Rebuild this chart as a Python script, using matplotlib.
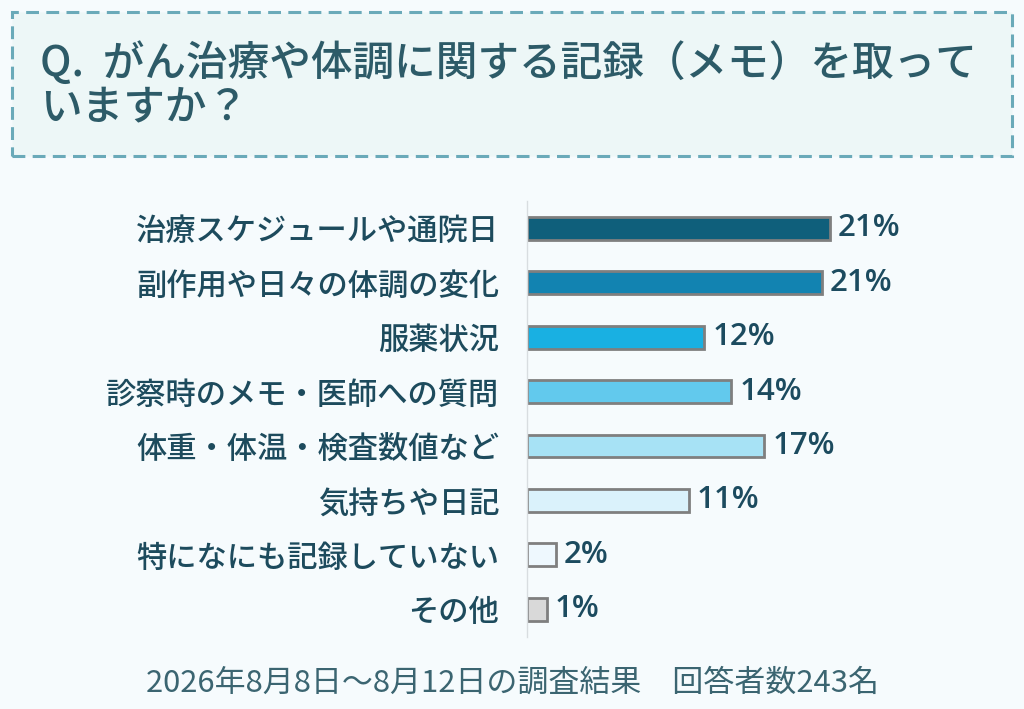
import matplotlib
matplotlib.use("Agg")
import matplotlib.pyplot as plt
from matplotlib.patches import Rectangle

plt.rcParams['font.family'] = ['Noto Sans CJK JP', 'DejaVu Sans']

# data
categories = ["治療スケジュールや通院日", "副作用や日々の体調の変化", "服薬状況",
              "診察時のメモ・医師への質問", "体重・体温・検査数値など", "気持ちや日記",
              "特になにも記録していない", "その他"]
values = [21.2, 20.6, 12.4, 14.3, 16.6, 11.3, 2.0, 1.4]
colors = ["#0f5f7b", "#1283b1", "#19b0e2", "#62c9ed", "#a7e2f5", "#daf2fb", "#eef8fe", "#d9d9d9"]
title_lines = ["Q.  がん治療や体調に関する記録（メモ）を取って", "いますか？"]
footer = "2026年8月8日～8月12日の調査結果　回答者数243名"

W, H = 1024, 709
fig = plt.figure(figsize=(W / 100, H / 100), dpi=100)
fig.patch.set_facecolor("#f6fbfd")

# title box
box = Rectangle((12 / W, 1 - 156 / H), 1000 / W, 144 / H, transform=fig.transFigure,
                facecolor="#edf7f7", edgecolor="#6aaab9", linewidth=2.2,
                linestyle=(0, (4.2, 2.4)))
fig.patches.append(box)
fig.text(40 / W, 1 - 63 / H, title_lines[0], fontsize=30, color="#2d5b68",
         fontweight="medium", va="center", ha="left")
fig.text(40 / W, 1 - 107 / H, title_lines[1], fontsize=30, color="#2d5b68",
         fontweight="medium", va="center", ha="left")

# bars
ax = fig.add_axes([527 / W, 1 - 636.5 / H, 429 / W, 435.5 / H])
ax.set_facecolor("none")
y = list(range(len(categories)))
ax.barh(y, values, height=0.42, color=colors, edgecolor="#7f7f7f", linewidth=2)
for yi, v in zip(y, values):
    ax.text(v + 0.55, yi, f"{v:.0f}%", va="center", ha="left", fontsize=22.5,
            color="#1c4b5f", fontweight="semibold", family=["Open Sans", "DejaVu Sans"])
ax.set_xlim(0, 30)
ax.set_ylim(len(categories) - 0.5, -0.5)
ax.set_yticks(y)
ax.set_yticklabels(categories, fontsize=21.8, color="#1d4b5d", fontweight="medium")
ax.tick_params(axis="y", length=0, pad=20)
ax.set_xticks([])
for s in ["top", "right", "bottom"]:
    ax.spines[s].set_visible(False)
ax.spines["left"].set_color("#d8dde0")
ax.spines["left"].set_linewidth(1)

fig.text(512 / W, 1 - 683 / H, footer, fontsize=22.3, color="#3b6571",
         ha="center", va="center")

fig.savefig("out.png", dpi=100, facecolor=fig.get_facecolor())
